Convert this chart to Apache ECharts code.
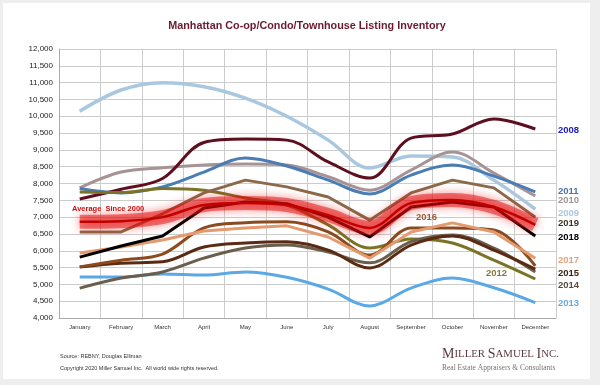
<!DOCTYPE html>
<html><head><meta charset="utf-8">
<script src="https://cdn.jsdelivr.net/npm/echarts@6/dist/echarts.min.js"></script>
<style>html,body{margin:0;padding:0;background:#eeeeee}#c{width:600px;height:385px}</style>
</head><body><div id="c"></div>
<script>
const months = ['January','February','March','April','May','June','July','August','September','October','November','December'];
const y2008 = [7540, 7830, 8150, 9220, 9320, 9290, 8640, 8160, 9350, 9470, 9920, 9620];
const y2009 = [10150, 10780, 11000, 10880, 10540, 10000, 9290, 8460, 8820, 8790, 8100, 7240];
const y2010 = [7870, 8340, 8470, 8550, 8580, 8550, 8200, 7800, 8400, 8940, 8310, 7630];
const y2011 = [7850, 7720, 7900, 8340, 8760, 8520, 8100, 7690, 8250, 8550, 8220, 7750];
const y2012 = [7750, 7730, 7850, 7800, 7570, 7360, 6770, 6080, 6350, 6230, 5720, 5160];
const y2013 = [5220, 5220, 5310, 5280, 5370, 5210, 4860, 4360, 4890, 5190, 4900, 4460];
const y2014 = [4890, 5190, 5370, 5780, 6080, 6170, 5960, 5640, 6270, 6470, 6080, 5370];
const y2015 = [5520, 5630, 5670, 6110, 6230, 6270, 6020, 5490, 6170, 6440, 6020, 5450];
const y2016 = [5520, 5720, 5900, 6680, 6830, 6860, 6560, 5870, 6680, 6680, 6620, 5550];
const y2017 = [5930, 6110, 6320, 6590, 6680, 6740, 6410, 5780, 6560, 6830, 6560, 5780];
const y2018 = [5810, 6140, 6440, 7270, 7450, 7400, 7000, 6410, 7300, 7450, 7300, 6440];
const y2019 = [6560, 6560, 7100, 7720, 8100, 7900, 7600, 6910, 7720, 8100, 7870, 7000];
const avg2000 = [6860, 6880, 7000, 7360, 7420, 7360, 7060, 6680, 7420, 7510, 7300, 6770];

const chart = echarts.init(document.getElementById('c'), null, {renderer:'canvas'});
function line(name, data, color, smooth, width){
  return {name, type:'line', data, symbol:'none', smooth: smooth ? 0.35 : false,
    lineStyle:{color, width: width||3}, itemStyle:{color}, z:2};
}
const sans = "'Liberation Sans',Arial,sans-serif";
const serif = "'Liberation Serif','DejaVu Serif',serif";
function lab(text, x, y, color){
  return {type:'text', x, y, style:{text, fill:color, font:"bold 9.5px "+sans, textVerticalAlign:'middle'}, z:10};
}
chart.setOption({
  animation:false,
  backgroundColor:'#eeeeee',
  grid:{left:59, right:44, top:49, bottom:67},
  xAxis:{type:'category', data:months, boundaryGap:true,
    axisLine:{lineStyle:{color:'#aaaaaa'}}, axisTick:{show:false},
    axisLabel:{fontSize:6, color:'#333', fontFamily:sans, margin:6, interval:0},
    splitLine:{show:true, interval:0, lineStyle:{color:'#cccccc', width:1}}},
  yAxis:{type:'value', min:4000, max:12000, interval:500,
    axisLine:{show:true, lineStyle:{color:'#aaaaaa'}}, axisTick:{show:false},
    axisLabel:{fontSize:8, color:'#222', fontFamily:sans, margin:6,
      formatter:v=>v.toLocaleString('en-US')},
    splitLine:{lineStyle:{color:'#cccccc', width:1}}},
  graphic:[
    {type:'rect', shape:{x:3, y:3, width:587, height:376}, style:{fill:'#ffffff'}, z:-10, silent:true},
    {type:'text', x:307, y:26, style:{text:'Manhattan Co-op/Condo/Townhouse Listing Inventory', fill:'#6b1a2c', font:"bold 10.8px "+sans, textAlign:'center', textVerticalAlign:'middle'}},
    lab('2008', 558, 130, '#1a1acc'),
    lab('2011', 558, 191, '#4c72a6'),
    lab('2010', 558, 200, '#a39394'),
    lab('2009', 558, 213, '#a9c6de'),
    lab('2019', 558, 223, '#3c3428'),
    lab('2018', 558, 237, '#000000'),
    lab('2017', 558, 260, '#e3a07e'),
    lab('2015', 558, 273, '#3a2416'),
    lab('2014', 558, 285, '#57503f'),
    lab('2013', 558, 303, '#6aabe2'),
    lab('2016', 416, 217, '#9a5a38'),
    lab('2012', 486, 273, '#85773c'),
    {type:'text', x:72, y:209, style:{text:'Average  Since 2000', fill:'#cc1111', font:"bold 7.5px "+sans, textVerticalAlign:'middle'}, z:10},
    {type:'text', x:60, y:356, style:{text:'Source: REBNY, Douglas Elliman', fill:'#333', font:"5.5px "+sans, textVerticalAlign:'middle'}},
    {type:'text', x:60, y:368, style:{text:'Copyright 2020 Miller Samuel Inc.  All world wide rights reserved.', fill:'#333', font:"5.5px "+sans, textVerticalAlign:'middle'}},
    {type:'text', x:442, y:354, style:{text:'{a|M}{b|ILLER }{a|S}{b|AMUEL }{a|I}{b|NC.}', textVerticalAlign:'middle',
      rich:{a:{fontSize:14, fontFamily:serif, fill:'#5b3a42'}, b:{fontSize:10.8, fontFamily:serif, fill:'#5b3a42'}}}},
    {type:'text', x:442, y:368, style:{text:'Real Estate Appraisers & Consultants', fill:'#7a7070', font:"7.5px "+serif, textVerticalAlign:'middle'}}
  ],
  series:[
    line('2013', y2013, '#5aa9e6', true),
    line('2009', y2009, '#a9c8df', true, 3.5),
    line('2010', y2010, '#a79294', true),
    line('2011', y2011, '#4a7db3', true),
    line('2008', y2008, '#5e0f1f', true),
    line('2012', y2012, '#7b7326', true),
    line('2014', y2014, '#6b5e4d', true),
    line('2015', y2015, '#5a2a12', true),
    line('2016', y2016, '#8c4a1f', true),
    line('2017', y2017, '#e39a6e', false),
    line('2019', y2019, '#8a6a4a', false),
    line('2018', y2018, '#000000', false),
    {name:'Average glow', type:'line', data:avg2000, symbol:'none', smooth:0.35, z:3,
      lineStyle:{color:'rgba(225,10,10,0.5)', width:14, shadowBlur:10, shadowColor:'rgba(235,0,0,0.85)'}},
    {name:'Average Since 2000', type:'line', data:avg2000, symbol:'none', smooth:0.35, z:4,
      lineStyle:{color:'#c20000', width:2.5}}
  ]
});
</script></body></html>
